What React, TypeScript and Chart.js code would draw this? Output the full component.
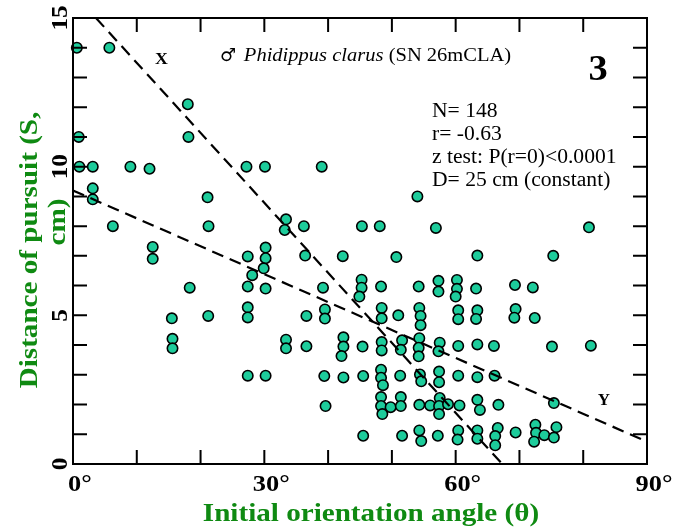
import React, { useEffect, useRef } from "react";
import { Chart, registerables } from "chart.js";
Chart.register(...registerables);

// Observed initial orientation angle (degrees)
const angles: number[] = [
  0.6, 5.7, 18.0, 0.9, 18.1, 1.0, 3.1, 9.0, 12.0, 27.2, 30.1, 39.0, 3.1, 3.1, 21.1, 6.25, 21.25, 33.4, 33.2, 36.2,
  45.3, 48.1, 12.5, 30.2, 54.0, 56.9, 80.9, 12.5, 27.4, 30.2, 29.9, 28.1, 36.4, 42.3, 50.7, 18.3, 27.4, 30.2, 39.2, 45.25,
  45.25, 44.9, 48.3, 15.5, 21.2, 27.4, 27.4, 36.6, 39.5, 39.5, 48.4, 48.4, 51.0, 15.6, 15.6, 33.4, 33.4, 36.6, 42.4, 42.4,
  42.1, 45.4, 48.4, 48.4, 27.4, 30.2, 39.4, 42.4, 45.5, 48.3, 48.3, 48.6, 51.3, 39.6, 48.3, 48.3, 49.8, 48.5, 51.4, 51.4,
  45.5, 51.6, 63.4, 75.3, 54.2, 57.3, 57.3, 60.2, 60.2, 60.0, 63.2, 69.3, 72.1, 54.3, 54.5, 54.5, 60.4, 60.4, 63.4, 63.2,
  69.4, 69.2, 72.4, 51.6, 51.4, 54.3, 54.2, 54.2, 57.5, 57.3, 60.4, 63.4, 66.0, 75.1, 81.2, 54.4, 54.6, 57.4, 57.4, 60.4,
  63.4, 66.1, 54.3, 56.0, 57.5, 57.4, 57.4, 58.8, 60.6, 63.4, 63.8, 66.7, 75.4, 54.3, 54.6, 57.2, 60.4, 60.3, 63.4, 63.4,
  66.6, 66.2, 66.2, 69.4, 72.5, 72.6, 72.3, 73.9, 75.4, 75.8,
];
// Distance of pursuit (cm)
const distances: number[] = [
  14.0, 14.0, 12.1, 11.0, 11.0, 10.0, 10.0, 10.0, 9.93, 10.0, 10.0, 10.0, 9.27, 8.9, 8.97, 8.0, 8.0, 8.23, 7.87, 8.0,
  8.0, 8.0, 7.3, 7.28, 9.0, 7.94, 7.96, 6.9, 6.98, 6.92, 6.58, 6.35, 7.01, 6.99, 6.96, 5.93, 5.97, 5.9, 5.93, 6.2,
  5.93, 5.63, 5.97, 4.9, 4.98, 5.27, 4.93, 4.98, 5.2, 4.89, 5.25, 4.9, 5.0, 4.21, 3.89, 4.18, 3.89, 3.96, 4.26, 3.95,
  3.63, 3.95, 4.1, 3.82, 2.97, 2.97, 2.96, 2.91, 2.96, 3.17, 2.9, 2.65, 2.97, 1.95, 2.25, 1.95, 1.91, 1.68, 2.25, 1.95,
  0.95, 0.95, 7.01, 7.0, 5.97, 6.16, 5.8, 6.19, 5.89, 5.63, 5.9, 6.02, 5.94, 5.25, 4.98, 4.67, 5.17, 4.87, 5.17, 4.88,
  5.21, 4.92, 4.91, 4.16, 3.84, 4.23, 3.91, 3.62, 4.08, 3.79, 3.97, 4.02, 3.97, 3.95, 3.98, 3.01, 2.78, 3.11, 2.75, 2.97,
  2.92, 2.97, 1.99, 1.97, 2.22, 1.95, 1.68, 2.01, 1.97, 2.16, 1.82, 1.99, 2.05, 1.13, 0.77, 0.95, 1.13, 0.82, 1.13, 0.85,
  1.21, 0.94, 0.63, 1.06, 1.32, 1.05, 0.75, 0.97, 0.89, 1.24,
];

// Dashed reference lines (end points)
const lineXAngles = [3.6, 67.3];
const lineXDist = [15, 0];
const lineYAngles = [0, 90];
const lineYDist = [9.2, 0.75];

const xMinorTicks = [0, 10, 20, 30, 40, 50, 60, 70, 80, 90];
const xLabelTicks = [0, 30, 60, 90];
const xTickLabels = ["0°", "30°", "60°", "90°"];
const yMinorTicks = [0, 1, 2, 3, 4, 5, 6, 7, 8, 9, 10, 11, 12, 13, 14, 15];
const yLabelTicks = [0, 5, 10, 15];
const yTickLabels = ["0", "5", "10", "15"];

const xTitle = "Initial orientation angle (θ)";
const yTitleLines = ["Distance of pursuit (S,", "cm)"];
const statsLines = ["N= 148", "r= -0.63", "z test: P(r=0)<0.0001", "D= 25 cm (constant)"];

const GREEN = "#0f8a12";
const SERIF = "'Liberation Serif', 'DejaVu Serif', serif";

function stretchText(
  ctx: CanvasRenderingContext2D,
  text: string,
  x: number,
  y: number,
  font: string,
  sx: number,
  align: CanvasTextAlign = "left",
  rot = 0
): number {
  ctx.save();
  ctx.font = font;
  ctx.translate(x, y);
  if (rot) ctx.rotate(rot);
  ctx.scale(sx, 1);
  ctx.textAlign = align;
  ctx.textBaseline = "middle";
  ctx.fillText(text, 0, 0);
  const w = ctx.measureText(text).width * sx;
  ctx.restore();
  return w;
}

const decorPlugin = {
  id: "decor",
  afterDraw(chart: any) {
    const ctx = chart.ctx as CanvasRenderingContext2D;
    const xs = chart.scales.x;
    const ys = chart.scales.y;
    const { left, right, top, bottom } = chart.chartArea;
    ctx.save();
    ctx.strokeStyle = "#000";
    ctx.lineWidth = 2;
    ctx.strokeRect(left, top, right - left, bottom - top);
    const tl = 14;
    ctx.beginPath();
    xMinorTicks.forEach((v) => {
      const px = xs.getPixelForValue(v);
      ctx.moveTo(px, bottom);
      ctx.lineTo(px, bottom - tl);
      ctx.moveTo(px, top);
      ctx.lineTo(px, top + tl);
    });
    yMinorTicks.forEach((v) => {
      const py = ys.getPixelForValue(v);
      ctx.moveTo(left, py);
      ctx.lineTo(left + tl, py);
      ctx.moveTo(right, py);
      ctx.lineTo(right - tl, py);
    });
    ctx.stroke();

    // x tick labels
    ctx.fillStyle = "#000";
    xLabelTicks.forEach((v, i) => {
      const px = xs.getPixelForValue(v);
      stretchText(ctx, xTickLabels[i], px + 7, bottom + 21, `bold 24px ${SERIF}`, 1.1, "center");
    });
    // y tick labels rotated
    yLabelTicks.forEach((v, i) => {
      const py = ys.getPixelForValue(v);
      stretchText(ctx, yTickLabels[i], left - 12, py, `bold 24px ${SERIF}`, 1.05, "center", -Math.PI / 2);
    });

    // axis titles
    ctx.fillStyle = GREEN;
    stretchText(ctx, xTitle, 371, 514, `bold 26px ${SERIF}`, 1.12, "center");
    stretchText(ctx, yTitleLines[0], 30, 250, `bold 26px ${SERIF}`, 1.12, "center", -Math.PI / 2);
    stretchText(ctx, yTitleLines[1], 58, 222, `bold 26px ${SERIF}`, 1.12, "center", -Math.PI / 2);

    // annotations
    ctx.fillStyle = "#000";
    stretchText(ctx, "X", 161.5, 60, `bold 17px ${SERIF}`, 1.05, "center");
    stretchText(ctx, "Y", 604, 401, `bold 17px ${SERIF}`, 1.0, "center");
    stretchText(ctx, "3", 598, 71, `bold 35px ${SERIF}`, 1.1, "center");

    let x0 = 220;
    x0 += stretchText(ctx, "♂ ", x0, 56, `18px 'DejaVu Sans', sans-serif`, 1.0);
    x0 += 2;
    x0 += stretchText(ctx, "Phidippus clarus ", x0, 56, `italic 19px ${SERIF}`, 1.08);
    stretchText(ctx, "(SN 26mCLA)", x0, 56, `19px ${SERIF}`, 1.08);

    statsLines.forEach((s, i) => {
      stretchText(ctx, s, 432, 112 + i * 23, `20px ${SERIF}`, 1.08);
    });
    ctx.restore();
  },
};

export default function App() {
  const ref = useRef<HTMLCanvasElement>(null);
  useEffect(() => {
    if (!ref.current) return;
    const points = angles.map((a, i) => ({ x: a, y: distances[i] }));
    const lx = lineXAngles.map((a, i) => ({ x: a, y: lineXDist[i] }));
    const ly = lineYAngles.map((a, i) => ({ x: a, y: lineYDist[i] }));
    const chart = new Chart(ref.current, {
      type: "scatter",
      data: {
        datasets: [
          {
            type: "scatter",
            data: points,
            backgroundColor: "#1dcc9b",
            borderColor: "#000",
            borderWidth: 1.6,
            pointRadius: 5.2,
            clip: false,
            order: 2,
          } as any,
          {
            type: "line",
            data: lx,
            borderColor: "#000",
            borderWidth: 2.2,
            borderDash: [12, 7],
            pointRadius: 0,
            fill: false,
            order: 1,
          } as any,
          {
            type: "line",
            data: ly,
            borderColor: "#000",
            borderWidth: 2.2,
            borderDash: [12, 7],
            pointRadius: 0,
            fill: false,
            order: 1,
          } as any,
        ],
      },
      options: {
        responsive: false,
        animation: false,
        layout: { padding: { left: 73, right: 31, top: 18, bottom: 65 } },
        plugins: { legend: { display: false }, tooltip: { enabled: false } },
        scales: {
          x: { type: "linear", min: 0, max: 90, display: false },
          y: { type: "linear", min: 0, max: 15, display: false },
        },
      },
      plugins: [decorPlugin],
    });
    return () => chart.destroy();
  }, []);
  return (
    <div style={{ position: "absolute", left: 0, top: 0, width: 678, height: 529, background: "#fff" }}>
      <canvas ref={ref} width={678} height={529} style={{ display: "block", width: 678, height: 529 }} />
    </div>
  );
}
